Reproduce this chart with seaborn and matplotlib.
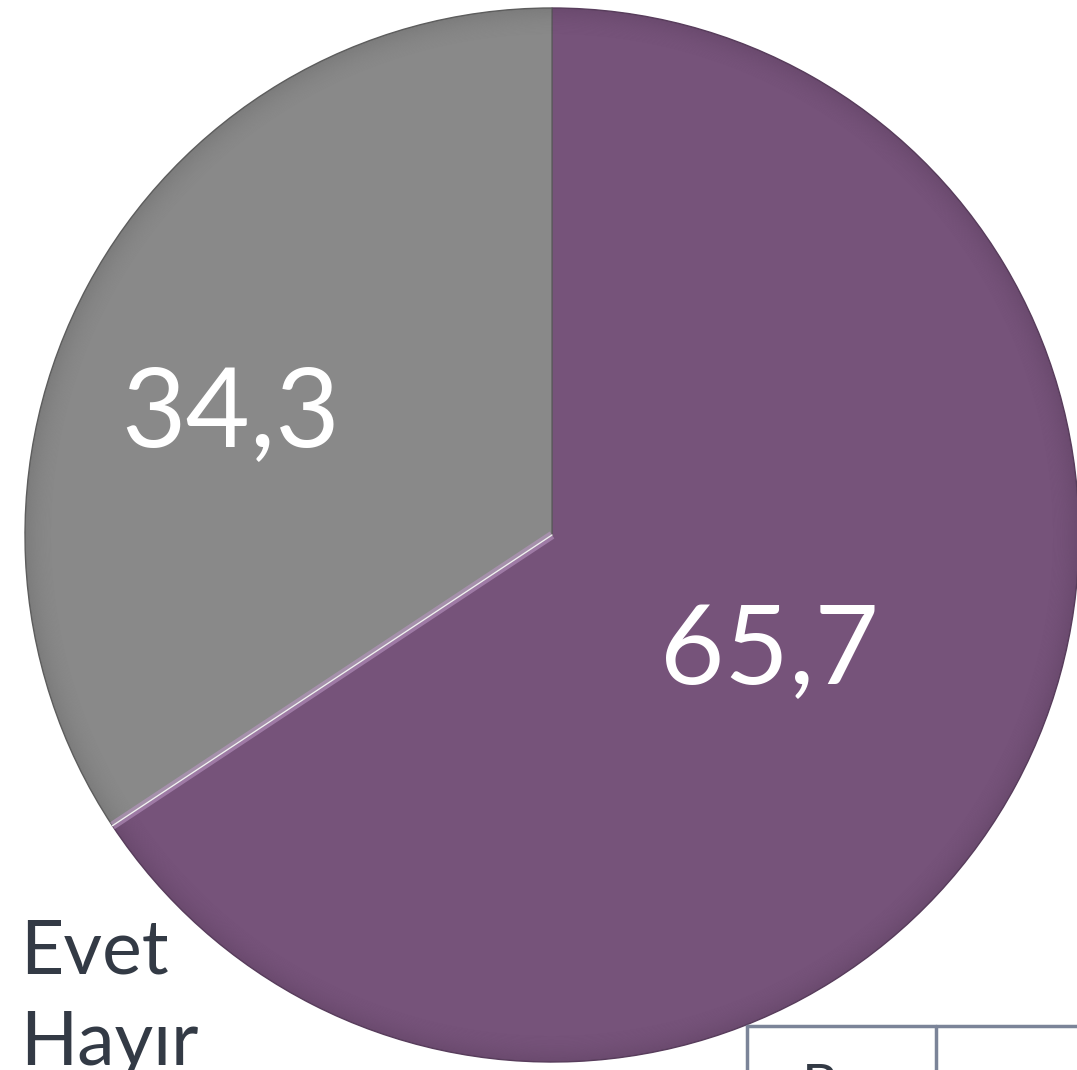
import numpy as np
import matplotlib
matplotlib.use("Agg")
import matplotlib.pyplot as plt
import seaborn as sns
from matplotlib.lines import Line2D
from matplotlib.patches import Wedge

# Survey answers (percent)
categories = ["Evet", "Hayır"]
values = [65.7, 34.3]
colors = ["#76537a", "#898989"]

sns.set_theme(style="white")
plt.rcParams["font.family"] = ["Lato", "DejaVu Sans"]

W, H = 1077, 1070
fig = plt.figure(figsize=(W / 100, H / 100), dpi=100)
ax = fig.add_axes([0, 0, 1, 1])

cx, cy, R = 552, 535, 527
wedges, _ = ax.pie(values, colors=colors, startangle=90, counterclock=False,
                   radius=R, center=(0, 0),
                   wedgeprops=dict(edgecolor="#5e5e5e", linewidth=1.0))
wedges[0].set_edgecolor("#5a3f5e")

# soft darker rim fading inwards to suggest the bevelled edge
steps = 24
for w, c in zip(wedges, ["#4f3552", "#5c5c5c"]):
    for k in range(steps):
        ax.add_patch(Wedge((0, 0), R - k * 1.2, w.theta1, w.theta2, width=1.2,
                           facecolor=c, alpha=0.28 * (1 - k / steps) ** 2,
                           edgecolor="none"))

# highlight along the Evet edge that meets the Hayır slice
ang = np.deg2rad(wedges[0].theta1)
ax.plot([0, R * np.cos(ang)], [0, R * np.sin(ang)], color="#b995c2", lw=6,
        alpha=0.6, solid_capstyle="butt")
ax.plot([0, R * np.cos(ang)], [0, R * np.sin(ang)], color="#f0f0f0", lw=1)

# value labels inside each slice
label_pos = [(-0.3, 0.47), (8.0, 0.65)]
for w, v, (doff, frac) in zip(wedges, values, label_pos):
    mid = np.deg2rad((w.theta1 + w.theta2) / 2 + doff)
    ax.text(frac * R * np.cos(mid), frac * R * np.sin(mid),
            f"{v:.1f}".replace(".", ","), color="white", fontsize=80,
            ha="center", va="center")

ax.set_xlim(-cx, W - cx)
ax.set_ylim(-(H - cy), cy)
ax.set_aspect("equal")
ax.axis("off")

# legend entries as plain text
for i, name in enumerate(categories):
    fig.text(20 / W, 1 - (952 + i * 92) / H, name, fontsize=54,
             color="#333a45", ha="left", va="center")

# corner of the data table below the chart
tcol = "#7b8498"
fig.add_artist(Line2D([747 / W, 1.0], [1 - 1026 / H] * 2, color=tcol, lw=2.5))
fig.add_artist(Line2D([747 / W] * 2, [1 - 1026 / H, 0], color=tcol, lw=2.5))
fig.add_artist(Line2D([936 / W] * 2, [1 - 1026 / H, 0], color=tcol, lw=2.5))
fig.text(802 / W, 1 - 1063 / H, "B", fontsize=40, color="#333a45",
         ha="left", va="top")

fig.savefig("out.png", dpi=100, facecolor="white")
